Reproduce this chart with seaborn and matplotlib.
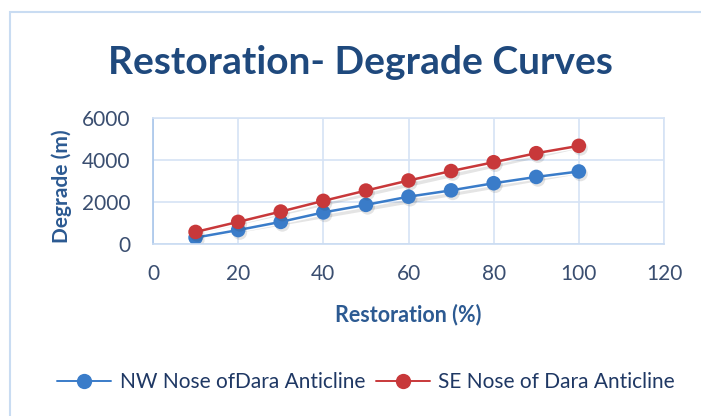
import matplotlib
matplotlib.use("Agg")
import matplotlib.pyplot as plt
import matplotlib.patheffects as pe
from matplotlib.patches import Rectangle
import seaborn as sns
import pandas as pd

restoration = [10, 20, 30, 40, 50, 60, 70, 80, 90, 100]
nw_degrade = [280, 640, 1030, 1480, 1840, 2230, 2530, 2870, 3170, 3430]
se_degrade = [550, 1030, 1520, 2030, 2520, 3000, 3450, 3870, 4300, 4650]
series_names = ["NW Nose ofDara Anticline", "SE Nose of Dara Anticline"]
x_ticks = [0, 20, 40, 60, 80, 100, 120]
y_ticks = [0, 2000, 4000, 6000]

df = pd.DataFrame({
    "Restoration": restoration * 2,
    "Degrade": nw_degrade + se_degrade,
    "Series": [series_names[0]] * len(restoration) + [series_names[1]] * len(restoration),
})

sns.set_style("white")
plt.rcParams["font.family"] = ["Lato", "DejaVu Sans"]

fig = plt.figure(figsize=(7.01, 4.16), dpi=100)
ax = fig.add_axes([153 / 701, 1 - 243.5 / 416, (664 - 153) / 701, (243.5 - 117.5) / 416])

palette = {series_names[0]: "#3A7CC9", series_names[1]: "#C8383A"}
sns.lineplot(data=df, x="Restoration", y="Degrade", hue="Series", palette=palette,
             marker="o", markersize=10.5, markeredgewidth=0, linewidth=1.8, ax=ax, legend=False)
for ln in ax.lines:
    ln.set_path_effects([pe.SimplePatchShadow(offset=(1.2, -1.8), alpha=0.12, shadow_rgbFace="#222222"),
                         pe.Normal()])

grid_c = "#D5E3F5"
ax.set_xlim(0, 120)
ax.set_ylim(0, 6000)
ax.set_xticks(x_ticks)
ax.set_yticks(y_ticks)
ax.grid(True, color=grid_c, linewidth=1.2)
for s in ax.spines.values():
    s.set_color(grid_c)
    s.set_linewidth(1.2)
ax.spines["left"].set_color("#A9C6EA")
ax.spines["bottom"].set_color("#C9DBF2")
ax.tick_params(axis="both", length=0, labelsize=15, labelcolor="#3A4E70")
ax.tick_params(axis="x", pad=15)
ax.tick_params(axis="y", pad=16)

lab_c = "#2C5A92"
ax.set_xlabel("Restoration (%)", fontsize=15.5, fontweight="bold", color=lab_c)
ax.set_ylabel("Degrade (m)", fontsize=15, fontweight="bold", color=lab_c)
ax.xaxis.set_label_coords(408 / 701, 1 - 315 / 416, transform=fig.transFigure)
ax.yaxis.set_label_coords(62 / 701, 1 - 186 / 416, transform=fig.transFigure)
ax.xaxis.label.set_va("center")
ax.yaxis.label.set_va("center")

fig.text(360 / 701, 1 - 62 / 416, "Restoration- Degrade Curves", ha="center", va="center",
         fontsize=28, fontweight="bold", color="#1F497D")

# legend
handles = [plt.Line2D([], [], color=palette[n], marker="o", markersize=11, markeredgewidth=0,
                      linewidth=1.4) for n in series_names]
fig.legend(handles, series_names, loc="center", bbox_to_anchor=(366 / 701, 1 - 382 / 416),
           ncol=2, frameon=False, fontsize=15, labelcolor="#1F3864", handlelength=2.6,
           handletextpad=0.4, columnspacing=0.5)

# chart border
fig.patches.append(Rectangle((10 / 701, -0.1), 1.0, 1 - 12 / 416 + 0.1, transform=fig.transFigure,
                             fill=False, edgecolor="#C9DCF2", linewidth=1.5))

fig.savefig("out.png", dpi=100, facecolor="white")
